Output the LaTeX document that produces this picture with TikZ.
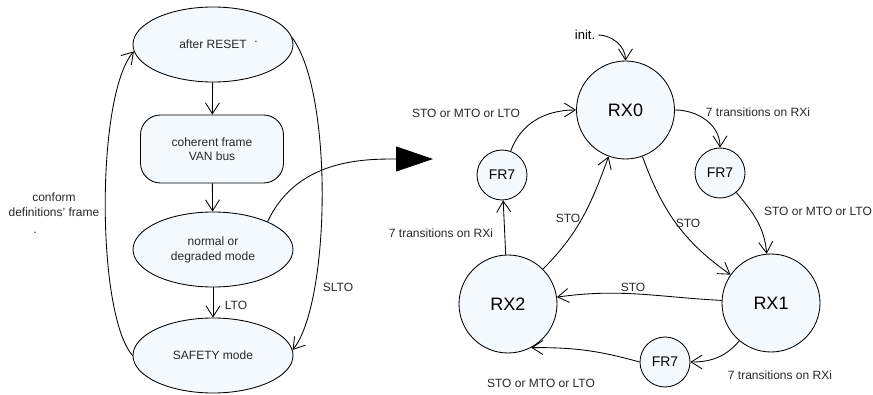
\documentclass[tikz,border=0pt]{standalone}
\usepackage{fontspec}
\setmainfont{Liberation Sans}
\usetikzlibrary{arrows.meta,shapes.geometric}
\definecolor{statefill}{RGB}{244,249,253}
\definecolor{txtgray}{RGB}{40,40,40}
\tikzset{
  state/.style={ellipse,draw,fill=statefill,line width=0.85pt,minimum width=160pt,minimum height=75pt,align=center,text=txtgray,font=\fontsize{12}{15}\selectfont},
  busbox/.style={rectangle,rounded corners=20pt,draw,fill=statefill,line width=0.85pt,minimum width=143pt,minimum height=68pt,align=center,text=txtgray,font=\fontsize{12}{14}\selectfont},
  rx/.style={circle,draw,fill=statefill,line width=0.85pt,minimum size=98pt,inner sep=0pt,font=\fontsize{18}{20}\selectfont},
  fr/.style={circle,draw,fill=statefill,line width=0.85pt,minimum size=50pt,inner sep=0pt,font=\fontsize{14}{16}\selectfont},
  lbl/.style={inner sep=0pt,align=center,text=txtgray,font=\fontsize{12}{15}\selectfont},
  trans/.style={-{Straight Barb[length=11pt,width=14pt]},line width=0.85pt},
}
\begin{document}
\begin{tikzpicture}[x=1pt,y=1pt]
\useasboundingbox (0,0) rectangle (873,394);
% left part
\node[state] (reset) at (213,349.5) {after RESET};
\node[busbox] (coh) at (212,245) {coherent frame\\VAN bus};
\node[state] (norm) at (213,144.5) {normal or\\degraded mode};
\node[state] (safe) at (213,38.5) {SAFETY mode};
\node[lbl,anchor=base] (dotA) at (256,351) {.};
\node[lbl,anchor=base] (dotB) at (35,160.5) {.};
\draw[trans] (reset) -- (coh);
\draw[trans] (coh) -- (norm);
\draw[trans] (norm) -- (safe);
\node[lbl] (lto) at (236,89) {LTO};
\draw[trans] (safe.west) .. controls (96,80) and (96,300) .. (reset.185);
\node[lbl] (conf) at (54,189) {conform\\definitions' frame};
\draw[trans] (reset.5) .. controls (334,300) and (330,90) .. (safe.4);
\node[lbl] (slto) at (338,107) {SLTO};
\coordinate (bigtip) at (433,235);
\draw[-{Triangle[length=37pt,width=25pt]},line width=0.85pt] (norm.27) to[out=65,in=180] (bigtip);
% right part
\node[rx] (rx0) at (625.5,284) {RX0};
\node[rx] (rx1) at (771,91) {RX1};
\node[rx] (rx2) at (508,90) {RX2};
\node[fr] (frA) at (502,219) {FR7};
\node[fr] (frB) at (720,221) {FR7};
\node[fr] (frC) at (665,32) {FR7};
\node[lbl,text=black,font=\fontsize{13}{15}\selectfont] (init) at (585,359) {init.};
\draw[trans,shorten <=3pt] (init) to[out=0,in=90] (rx0);
\draw[trans] (frA) to[out=70,in=180] (rx0);
\draw[trans] (rx0) to[out=0,in=90] (frB);
\draw[trans] (frB) to[out=-50,in=95] (rx1);
\draw[trans] (rx0) to[out=-70,in=145] (rx1);
\draw[trans] (rx2) to[out=45,in=-110] (rx0);
\draw[trans] (rx1) to[out=177,in=8] (rx2);
\draw[trans] (rx1) to[out=-130,in=0] (frC);
\draw[trans] (frC.west) to[bend right=8] (rx2.-62);
\draw[trans] (rx2) -- (frA);
\node[lbl] (tA) at (466,281) {STO or MTO or LTO};
\node[lbl] (tB) at (758,282) {7 transitions on RXi};
\node[lbl] (tC) at (818,183) {STO or MTO or LTO};
\node[lbl] (tD) at (688,171) {STO};
\node[lbl] (tE) at (568,176) {STO};
\node[lbl] (tF) at (441,161) {7 transitions on RXi};
\node[lbl] (tG) at (633,107) {STO};
\node[lbl] (tH) at (780,19) {7 transitions on RXi};
\node[lbl] (tI) at (541,11) {STO or MTO or LTO};
\end{tikzpicture}
\end{document}
